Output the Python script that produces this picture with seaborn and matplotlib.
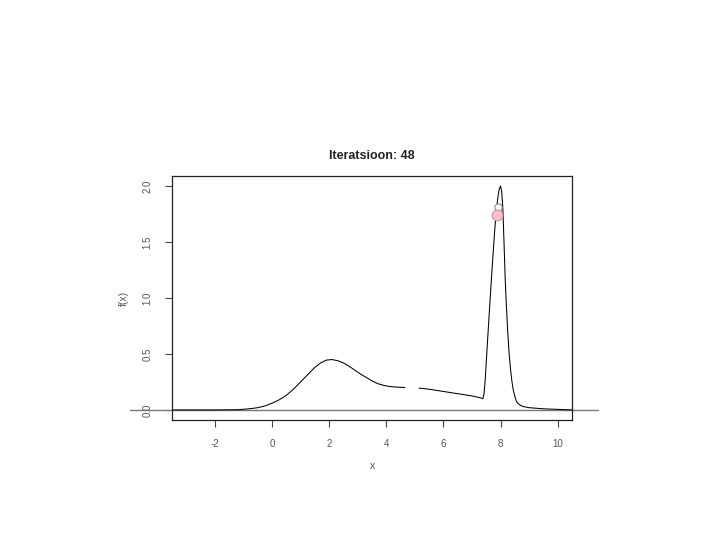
import numpy as np
import pandas as pd
import matplotlib
matplotlib.use("Agg")
import matplotlib.pyplot as plt
import seaborn as sns

# curve (two pieces, there is a small gap near x=4.9)
x_left = [-3.5, -2.0, -1.2, -0.8, -0.5, -0.25, 0.0, 0.25, 0.5, 0.75, 1.0, 1.25, 1.5,
          1.7, 1.9, 2.1, 2.3, 2.5, 2.7, 2.9, 3.1, 3.3, 3.5, 3.7, 3.9, 4.1, 4.3, 4.65]
y_left = [0.0, 0.0, 0.002, 0.01, 0.02, 0.035, 0.06, 0.09, 0.13, 0.185, 0.25, 0.315, 0.38,
          0.42, 0.445, 0.45, 0.44, 0.42, 0.39, 0.355, 0.32, 0.29, 0.26, 0.235, 0.22, 0.21, 0.205, 0.20]
x_right = [5.15, 5.5, 6.0, 6.5, 7.0, 7.3, 7.38, 7.42, 7.46, 7.5, 7.55, 7.6, 7.65, 7.7,
           7.75, 7.8, 7.85, 7.9, 7.95, 8.0, 8.04, 8.08, 8.12, 8.16, 8.2, 8.25, 8.3,
           8.35, 8.4, 8.45, 8.5, 8.55, 8.6, 8.7, 8.8, 9.0, 9.5, 10.0, 10.5]
y_right = [0.195, 0.185, 0.165, 0.145, 0.125, 0.108, 0.10, 0.14, 0.26, 0.43, 0.64, 0.85,
           1.05, 1.25, 1.44, 1.62, 1.77, 1.89, 1.97, 2.0, 1.95, 1.80, 1.50, 1.18, 0.95, 0.70, 0.50,
           0.36, 0.25, 0.17, 0.12, 0.08, 0.06, 0.04, 0.03, 0.02, 0.01, 0.005, 0.0]

# current iterate (pink) and previous one (open)
prev_x, prev_y = [7.9], [1.81]
cur_x, cur_y = [7.87], [1.74]

title = "Iteratsioon: 48"
x_ticks = [-2, 0, 2, 4, 6, 8, 10]
y_ticks = [0.0, 0.5, 1.0, 1.5, 2.0]

sns.set_style("white")
plt.rcParams['font.family'] = ['Liberation Sans', 'DejaVu Sans']

curve = pd.concat([
    pd.DataFrame({'x': x_left, 'y': y_left, 'seg': 0}),
    pd.DataFrame({'x': x_right, 'y': y_right, 'seg': 1}),
])

fig = plt.figure(figsize=(7.2, 5.4), dpi=100)
ax = fig.add_axes([172 / 720, 1 - 420 / 540, 400 / 720, 244 / 540])

sns.lineplot(data=curve, x='x', y='y', units='seg', estimator=None,
             color='black', linewidth=0.75, ax=ax)

# horizontal zero line running past the frame
ax.axhline(0, xmin=-0.105, xmax=1.065, color='#777777', linewidth=1.0, clip_on=False, zorder=1)

sns.scatterplot(x=prev_x, y=prev_y, s=28, facecolor='white', edgecolor='#888888',
                linewidth=0.8, ax=ax, zorder=3)
sns.scatterplot(x=cur_x, y=cur_y, s=60, color='#ffc0cb', edgecolor='#d88898',
                linewidth=0.7, ax=ax, zorder=4)

ax.set_xlim(-3.5, 10.5)
ax.set_ylim(-0.09, 2.09)
ax.set_xticks(x_ticks)
ax.set_xticklabels([str(t) for t in x_ticks])
ax.set_yticks(y_ticks)
ax.set_yticklabels([f"{t:.1f}" for t in y_ticks], rotation=90, va='center')
ax.tick_params(axis='both', direction='out', length=5, width=0.8, color='#444444',
               labelsize=7, labelcolor='#555555', bottom=True, left=True, pad=9)

for s in ax.spines.values():
    s.set_color('#222222')
    s.set_linewidth(0.9)

ax.set_xlabel('x', fontsize=7.5, color='#555555', labelpad=8)
ax.set_ylabel('f(x)', fontsize=7.5, color='#555555', labelpad=10)
ax.set_title(title, fontsize=9, fontweight='bold', color='#222222', pad=12)

fig.savefig('out.png', dpi=100)
